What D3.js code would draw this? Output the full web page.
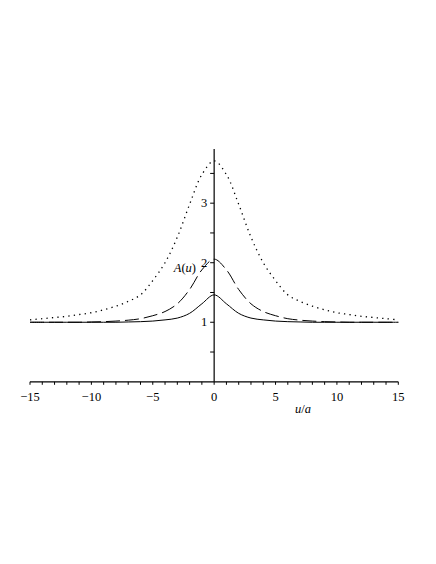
<!DOCTYPE html>
<html>
<head>
<meta charset="utf-8">
<script src="https://cdn.jsdelivr.net/npm/d3@7"></script>
<style>
  body { margin: 0; background: #fff; }
</style>
</head>
<body>
<div id="chart"></div>
<script>
// u/a sample points
var uValues = [-15,-14,-13,-12,-11,-10,-9,-8,-7,-6,-5,-4,-3,-2,-1,0,1,2,3,4,5,6,7,8,9,10,11,12,13,14,15];
// A(u) for the three cases
var dottedA = [1.04,1.06,1.08,1.10,1.13,1.16,1.21,1.27,1.35,1.46,1.70,2.00,2.43,2.98,3.48,3.71,3.48,2.98,2.43,2.00,1.70,1.46,1.35,1.27,1.21,1.16,1.13,1.10,1.08,1.06,1.04];
var dashedA = [1.0,1.0,1.0,1.0,1.0,1.005,1.01,1.02,1.035,1.06,1.11,1.18,1.31,1.55,1.88,2.06,1.88,1.55,1.31,1.18,1.11,1.06,1.035,1.02,1.01,1.005,1.0,1.0,1.0,1.0,1.0];
var solidA  = [1.0,1.0,1.0,1.0,1.0,1.0,1.0,1.0,1.005,1.01,1.02,1.04,1.07,1.15,1.31,1.46,1.31,1.15,1.07,1.04,1.02,1.01,1.005,1.0,1.0,1.0,1.0,1.0,1.0,1.0,1.0];

var xMajorTicks = [-15,-10,-5,0,5,10,15];
var xMinorTicks = d3.range(-15, 16, 1);
var yTicks = [0.5,1,1.5,2,2.5,3,3.5];
var yLabels = [1,2,3];

var width = 436, height = 564;
var serif = "'Liberation Serif', 'Times New Roman', Times, serif";

var svg = d3.select("#chart").append("svg")
    .attr("width", width)
    .attr("height", height)
    .attr("font-family", serif);

var x = d3.scaleLinear().domain([-15, 15]).range([30, 398.3]);
var y = d3.scaleLinear().domain([0, 3.91]).range([381.8, 149]);

// x axis
var gx = svg.append("g");
gx.append("line")
    .attr("x1", x(-15)).attr("x2", x(15))
    .attr("y1", y(0)).attr("y2", y(0))
    .attr("stroke", "#000").attr("stroke-width", 1.2);
gx.selectAll("line.tick").data(xMinorTicks).enter().append("line")
    .attr("class", "tick")
    .attr("x1", function(d){ return x(d); }).attr("x2", function(d){ return x(d); })
    .attr("y1", y(0)).attr("y2", y(0) + 3)
    .attr("stroke", "#000").attr("stroke-width", 1);
gx.selectAll("text").data(xMajorTicks).enter().append("text")
    .attr("x", function(d){ return x(d); })
    .attr("y", 401)
    .attr("text-anchor", "middle")
    .attr("font-family", serif)
    .attr("font-size", "12.5px")
    .text(function(d){ return d < 0 ? "\u2212" + Math.abs(d) : d; });

var xl = svg.append("text")
    .attr("x", 303).attr("y", 413)
    .attr("text-anchor", "middle")
    .attr("font-family", serif)
    .attr("font-size", "12.5px");
xl.append("tspan").attr("font-style", "italic").text("u");
xl.append("tspan").text("/");
xl.append("tspan").attr("font-style", "italic").text("a");

// y axis
var gy = svg.append("g");
gy.append("line")
    .attr("x1", x(0)).attr("x2", x(0))
    .attr("y1", y(0)).attr("y2", y(3.91))
    .attr("stroke", "#000").attr("stroke-width", 1.2);
gy.selectAll("line.tick").data(yTicks).enter().append("line")
    .attr("class", "tick")
    .attr("x1", x(0) - 4).attr("x2", x(0))
    .attr("y1", function(d){ return y(d); }).attr("y2", function(d){ return y(d); })
    .attr("stroke", "#000").attr("stroke-width", 1);
gy.selectAll("text").data(yLabels).enter().append("text")
    .attr("x", x(0) - 7)
    .attr("y", function(d){ return y(d) + 4; })
    .attr("text-anchor", "end")
    .attr("font-family", serif)
    .attr("font-size", "12.5px")
    .text(function(d){ return d; });

var yl = svg.append("text")
    .attr("x", 196).attr("y", 272)
    .attr("text-anchor", "end")
    .attr("font-family", serif)
    .attr("font-size", "12.5px");
yl.append("tspan").attr("font-style", "italic").text("A");
yl.append("tspan").text("(");
yl.append("tspan").attr("font-style", "italic").text("u");
yl.append("tspan").text(")");

// curves
var line = d3.line()
    .x(function(d){ return x(d[0]); })
    .y(function(d){ return y(d[1]); })
    .curve(d3.curveCatmullRom.alpha(0.5));

function series(vals){ return uValues.map(function(u, i){ return [u, vals[i]]; }); }

svg.append("path").datum(series(dottedA))
    .attr("d", line).attr("fill", "none")
    .attr("stroke", "#000").attr("stroke-width", 1.3)
    .attr("stroke-dasharray", "1.3,4.2");
svg.append("path").datum(series(dashedA))
    .attr("d", line).attr("fill", "none")
    .attr("stroke", "#000").attr("stroke-width", 1)
    .attr("stroke-dasharray", "14,5");
svg.append("path").datum(series(solidA))
    .attr("d", line).attr("fill", "none")
    .attr("stroke", "#000").attr("stroke-width", 1);
</script>
</body>
</html>
